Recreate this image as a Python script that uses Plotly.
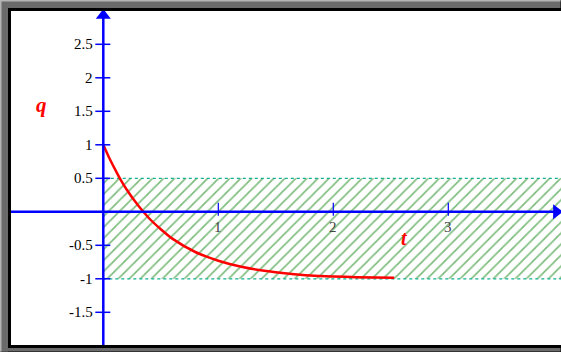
import plotly.graph_objects as go

# curve (t, q)
curve_t = [0, 0.05, 0.1, 0.15, 0.2, 0.3, 0.4, 0.5, 0.6, 0.8, 1.0, 1.2, 1.4, 1.6, 1.8, 2.0, 2.2, 2.53]
curve_q = [1.0, 0.81, 0.64, 0.48, 0.34, 0.10, -0.10, -0.26, -0.40, -0.60, -0.73, -0.82, -0.88, -0.92, -0.95, -0.965, -0.975, -0.985]

# hatched band
band_t = [0, 4.2]
band_q = [-1, 0.5]

q_ticks = [-1.5, -1, -0.5, 0.5, 1, 1.5, 2, 2.5]
q_tick_text = ["-1.5", "-1", "-0.5", "0.5", "1", "1.5", "2", "2.5"]
t_ticks = [1, 2, 3]
t_tick_text = ["1", "2", "3"]

# axis ends (arrow tips)
t_max, q_max = 3.94, 2.93

W, H = 561, 352
L, T, B = 11, 11, 7
PW, PH = W - L, H - T - B
BLUE = "#0000ff"
SERIF = "Liberation Serif, Times New Roman, serif"


def px(x):
    return (x - L) / PW


def py(y):
    return (H - B - y) / PH


fig = go.Figure()

fig.add_trace(go.Scatter(
    x=[band_t[0], band_t[1], band_t[1], band_t[0], band_t[0]],
    y=[band_q[0], band_q[0], band_q[1], band_q[1], band_q[0]],
    mode="lines", fill="toself", fillcolor="rgba(0,0,0,0)",
    fillpattern=dict(shape="/", fgcolor="#007a00", size=7.8, solidity=0.22),
    line=dict(color="#10b090", width=1.2, dash="dot"),
    hoverinfo="skip", showlegend=False))

fig.add_trace(go.Scatter(
    x=curve_t, y=curve_q, mode="lines",
    line=dict(color="#ff0000", width=2.5, shape="spline", smoothing=0.8),
    showlegend=False))

# arrow heads of the axes
fig.add_trace(go.Scatter(
    x=[0, t_max], y=[q_max, 0], mode="markers",
    marker=dict(symbol=["triangle-up", "triangle-right"], size=13, color=BLUE,
                line=dict(width=0)),
    hoverinfo="skip", showlegend=False))

shapes = []
annotations = []

# axis lines
shapes.append(dict(type="line", xref="x", yref="y", x0=0, x1=0, y0=-2.1, y1=q_max,
                   line=dict(color=BLUE, width=2.5), layer="above"))
shapes.append(dict(type="line", xref="x", yref="y", x0=-0.81, x1=t_max, y0=0, y1=0,
                   line=dict(color=BLUE, width=2.5), layer="above"))

# q ticks and labels
for v, s in zip(q_ticks, q_tick_text):
    shapes.append(dict(type="line", xref="x", yref="y", xsizemode="pixel", xanchor=0,
                       x0=-8, x1=7, y0=v, y1=v, line=dict(color=BLUE, width=1.5),
                       layer="above"))
    annotations.append(dict(x=0, y=v, xref="x", yref="y", text=s, showarrow=False,
                            xanchor="right", yanchor="middle", xshift=-8,
                            font=dict(family=SERIF, size=15, color="black")))

# t ticks and labels
for v, s in zip(t_ticks, t_tick_text):
    shapes.append(dict(type="line", xref="x", yref="y", ysizemode="pixel", yanchor=0,
                       y0=-4, y1=9, x0=v, x1=v, line=dict(color=BLUE, width=1.2),
                       layer="above"))
    annotations.append(dict(x=v, y=0, xref="x", yref="y", text=s, showarrow=False,
                            xanchor="center", yanchor="top", yshift=-5,
                            font=dict(family=SERIF, size=15, color="#444444")))

# axis names
annotations.append(dict(x=-0.536, y=1.59, xref="x", yref="y", text="<b><i>q</i></b>",
                        showarrow=False, font=dict(family=SERIF, size=21, color="#ff0000")))
annotations.append(dict(x=2.615, y=-0.39, xref="x", yref="y", text="<b><i>t</i></b>",
                        showarrow=False, font=dict(family=SERIF, size=20, color="#ff0000")))

# grey window frame (black comes from the paper background)
GREY = "#6a6a6a"
LIGHT = "#b4b4b4"
frame = [
    (0, 0, 8, H - 0.5, GREY),
    (0, 0, W - 0.5, 8, GREY),
    (0, H - 4, W - 0.5, H - 0.5, GREY),
    (0, 0, 1.5, H - 0.5, LIGHT),
    (0, 0, W - 0.5, 1.5, LIGHT),
]
for x0, y0, x1, y1, c in frame:
    shapes.append(dict(type="rect", xref="paper", yref="paper",
                       x0=px(x0), x1=px(x1), y0=py(y0), y1=py(y1),
                       fillcolor=c, line=dict(width=0), layer="above"))

fig.update_layout(
    width=W, height=H,
    margin=dict(l=L, r=0, t=T, b=B, pad=0, autoexpand=False),
    paper_bgcolor="black", plot_bgcolor="white",
    xaxis=dict(range=[(L - 103.3) / 115, (W - 103.3) / 115], visible=False,
               showgrid=False, zeroline=False, fixedrange=True),
    yaxis=dict(range=[-(H - B - 211.8) / 67, (211.8 - T) / 67], visible=False,
               showgrid=False, zeroline=False, fixedrange=True),
    shapes=shapes, annotations=annotations, showlegend=False)

fig.write_html("out.html", config={"displayModeBar": False},
               post_script="document.documentElement.style.overflow='hidden';"
                           "document.body.style.margin='0';document.body.style.overflow='hidden';")
